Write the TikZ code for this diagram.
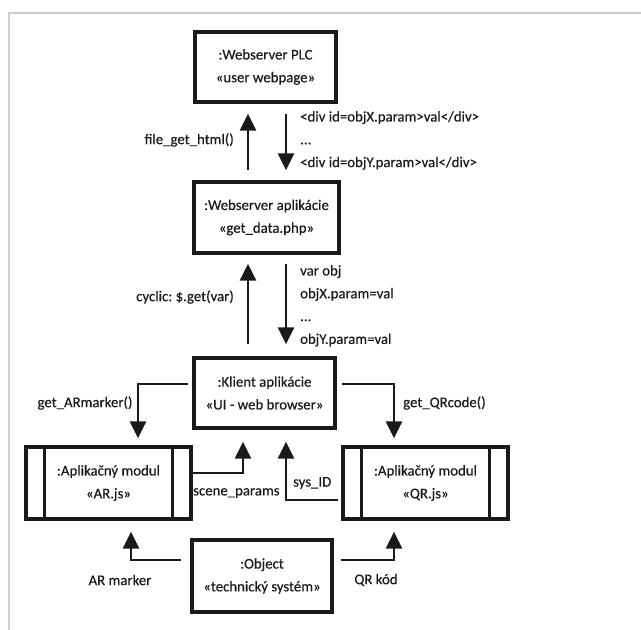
\documentclass[tikz,border=0pt]{standalone}
\usepackage{fontspec}
\setmainfont{Carlito}[FakeBold=0.35]
\usetikzlibrary{arrows.meta,shadows}
\definecolor{ink}{HTML}{1A1A1A}
\definecolor{framegray}{HTML}{CFCFCF}
\frenchspacing
\begin{document}
\begin{tikzpicture}[x=1pt,y=-1pt,
  every node/.style={text=ink},
  txt/.style={font=\fontsize{14.8}{22.8}\selectfont, inner sep=0pt},
  objbox/.style={draw=ink, line width=3.4pt, fill=white, align=center,
    txt, minimum height=70pt,
    drop shadow={shadow xshift=2pt, shadow yshift=-2pt, opacity=0.3, fill=black}},
  lbl/.style={txt, align=left},
  conn/.style={draw=ink, line width=2.6pt},
  arr/.style={conn, -{Triangle[length=17pt,width=16pt]}},
]
\useasboundingbox (0,0) rectangle (641,630);
% page frame
\draw[framegray, line width=1.3pt] (9,632) -- (9,13) -- (643,13);

% object boxes
\node[objbox, minimum width=141pt] (plc) at (265.5,67) {:Webserver PLC\\«user webpage»};
\node[objbox, minimum width=145pt, minimum height=71pt] (app) at (266.5,217.5) {:Webserver aplikácie\\«get\_data.php»};
\node[objbox, minimum width=141pt] (cli) at (264.5,393) {:Klient aplikácie\\«UI - web browser»};
\node[objbox, minimum width=165pt, minimum height=72pt] (arm) at (108.5,483) {:Aplikačný modul\\«AR.js»};
\node[objbox, minimum width=165pt, minimum height=72pt] (qrm) at (425.5,483) {:Aplikačný modul\\«QR.js»};
\node[objbox, minimum width=140pt, minimum height=72pt] (obj) at (262,576) {:Object\\«technický systém»};

% module side bars
\foreach \m in {arm,qrm}{
  \draw[ink, line width=2.6pt] ([xshift=20pt]\m.north west) -- ([xshift=20pt]\m.south west);
  \draw[ink, line width=2.6pt] ([xshift=-20pt]\m.north east) -- ([xshift=-20pt]\m.south east);
}

% vertical links
\coordinate (xa) at (248,0);
\coordinate (xb) at (286,0);
\draw[arr, shorten <=10pt, shorten >=10pt] (app.north -| xa) -- (plc.south -| xa);
\draw[arr, shorten <=10pt, shorten >=10pt] (plc.south -| xb) -- (app.north -| xb);
\draw[arr, shorten <=12pt, shorten >=9pt] (cli.north -| xa) -- (app.south -| xa);
\draw[arr, shorten <=9pt, shorten >=12pt] (app.south -| xb) -- (cli.north -| xb);

% elbow links
\coordinate (eAR) at (138,384);
\coordinate (eQR) at (394,384);
\coordinate (eSP) at (243,473);
\coordinate (eSI) at (286,500);
\coordinate (eAM) at (131,560);
\coordinate (eQK) at (394,560);
\draw[arr, shorten >=7pt] ([xshift=-4pt]cli.west |- eAR) -- (eAR) -- (eAR |- arm.north);
\draw[arr, shorten >=7pt] ([xshift=5pt]cli.east |- eQR) -- (eQR) -- (eQR |- qrm.north);
\draw[arr, shorten >=12pt] (arm.east |- eSP) -- (eSP) -- (eSP |- cli.south);
\draw[arr, shorten >=12pt] ([xshift=-3pt]qrm.west |- eSI) -- (eSI) -- (eSI |- cli.south);
\draw[arr, shorten >=11pt] ([xshift=-9pt]obj.west |- eAM) -- (eAM) -- (eAM |- arm.south);
\draw[arr, shorten >=11pt] ([xshift=7pt]obj.east |- eQK) -- (eQK) -- (eQK |- qrm.south);

% message labels
\node[lbl, anchor=east] (l1) at (234,140) {file\_get\_html()};
\node[lbl, anchor=north west] (l2) at (300,111) {<div id=objX.param>val</div>\\...\\<div id=objY.param>val</div>};
\node[lbl, anchor=east] (l3) at (234,297) {cyclic: \$.get(var)};
\node[lbl, anchor=north west] (l4) at (300,265) {var obj\\objX.param=val\\...\\objY.param=val};
\node[lbl] (l5) at (85,403) {get\_ARmarker()};
\node[lbl, anchor=west] (l6) at (403,403) {get\_QRcode()};
\node[lbl, anchor=west] (l7) at (193,493) {scene\_params};
\node[lbl, anchor=west] (l8) at (293,483) {sys\_ID};
\node[lbl] (l9) at (120,580) {AR marker};
\node[lbl] (l10) at (376,580) {QR kód};
\end{tikzpicture}
\end{document}
